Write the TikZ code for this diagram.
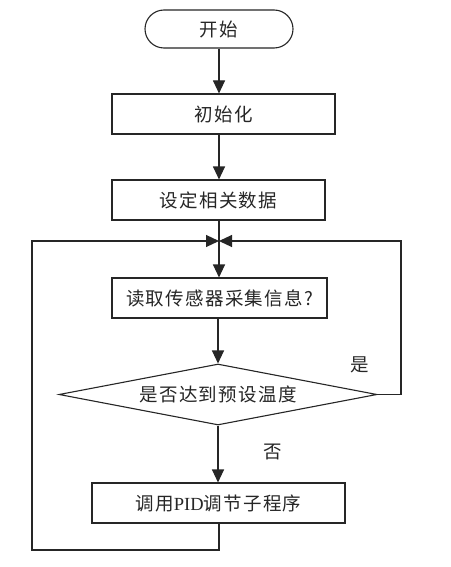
\documentclass[tikz,border=0pt]{standalone}
\usepackage{fontspec}
\setmainfont{Liberation Serif}
\newfontfamily\cjk[LetterSpace=7]{Noto Sans CJK SC}
\usetikzlibrary{shapes.geometric,arrows.meta}
\begin{document}
\begin{tikzpicture}[x=1pt,y=-1pt,
  every node/.style={text=black!85},
  txt/.style={font=\cjk\fontsize{18.5}{18.5}\selectfont},
  box/.style={draw=black!85, line width=1.1pt, minimum height=40pt, inner sep=0pt, txt},
  arr/.style={-{Triangle[length=13pt,width=12pt]}, line width=1.1pt, draw=black!85},
  ln/.style={line width=1.1pt, draw=black!85}]
\fill[white] (0,0) rectangle (450,567);
\useasboundingbox (0,0) rectangle (450,567);
\node[box, rounded corners=19pt, minimum width=148pt, minimum height=38pt] (start) at (219,29) {开始};
\node[box, minimum width=223pt] (init) at (223.5,114) {初始化};
\node[box, minimum width=213pt] (set) at (218.5,200) {设定相关数据};
\node[box, minimum width=215pt] (read) at (219.5,298) {读取传感器采集信息?};
\node[box, shape=diamond, aspect=5.21, minimum width=318pt, minimum height=61pt] (dia) at (218,394.5) {是否达到预设温度};
\node[box, minimum width=253pt] (pid) at (218.5,503) {调用{\rmfamily PID}调节子程序};
\coordinate (J) at (219,241);
\coordinate (R) at (401,241);
\coordinate (BL) at (32,550);
\node[txt] (yes) at (360,365) {是};
\node[txt] (no) at (273,452) {否};
\draw[arr] (start.south -| J) -- (init.north -| J);
\draw[arr] (init.south -| J) -- (set.north -| J);
\draw[arr] (set.south -| J) -- (read.north -| J);
\draw[arr] (read.south -| dia.north) -- (dia.north);
\draw[arr] (dia.south) -- (pid.north -| dia.south);
\draw[arr] (dia.east) -| (R) -- (J);
\draw[arr] (pid.south -| J) |- (BL) |- (J);
\end{tikzpicture}
\end{document}
